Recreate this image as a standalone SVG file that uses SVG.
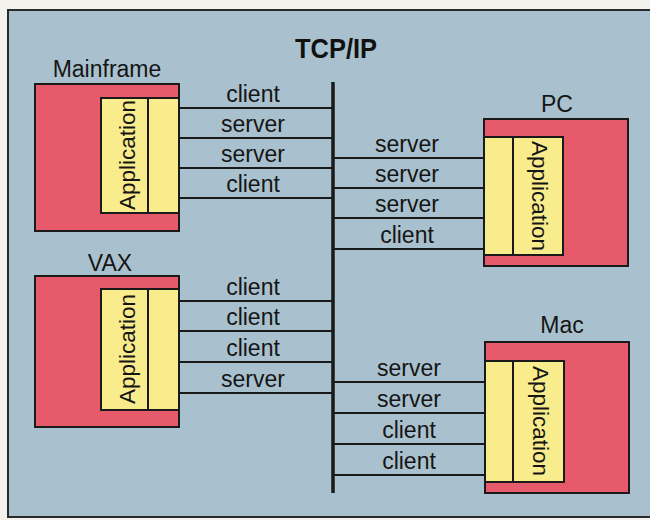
<svg xmlns="http://www.w3.org/2000/svg" width="650" height="520" viewBox="0 0 650 520">
<style>
.red{fill:#e65a6b;stroke:#1a1a1a;stroke-width:2}
.yel{fill:#f8ec8c;stroke:#1a1a1a;stroke-width:2}
.div{stroke:#1a1a1a;stroke-width:2}
.t{font-family:"Liberation Sans",Arial,sans-serif;font-size:23px;fill:#151515;text-anchor:middle}
.app{font-size:22.5px}
.title{font-family:"Liberation Sans",Arial,sans-serif;font-size:28px;font-weight:bold;fill:#111;text-anchor:middle}
.conn line{stroke:#1a1a1a;stroke-width:2}
</style>
<rect x="0" y="0" width="650" height="520" fill="#f4f2ec"/>
<rect x="8" y="10" width="660" height="507" fill="#a9c1ce" stroke="#2a2a2a" stroke-width="2"/>
<text class="title" x="336" y="58" textLength="82" lengthAdjust="spacingAndGlyphs">TCP/IP</text>
<g id="connectors" class="conn">
<line x1="333" y1="82" x2="333" y2="493" style="stroke-width:3.5"/>
<line x1="179" y1="108" x2="333" y2="108"/>
<line x1="179" y1="138" x2="333" y2="138"/>
<line x1="179" y1="168" x2="333" y2="168"/>
<line x1="179" y1="198" x2="333" y2="198"/>
<line x1="179" y1="301" x2="333" y2="301"/>
<line x1="179" y1="331" x2="333" y2="331"/>
<line x1="179" y1="362" x2="333" y2="362"/>
<line x1="179" y1="393" x2="333" y2="393"/>
<line x1="333" y1="158" x2="484" y2="158"/>
<line x1="333" y1="188" x2="484" y2="188"/>
<line x1="333" y1="218" x2="484" y2="218"/>
<line x1="333" y1="249" x2="484" y2="249"/>
<line x1="333" y1="382" x2="485" y2="382"/>
<line x1="333" y1="413" x2="485" y2="413"/>
<line x1="333" y1="444" x2="485" y2="444"/>
<line x1="333" y1="475" x2="485" y2="475"/>
<text class="t" x="253" y="102">client</text>
<text class="t" x="253" y="132">server</text>
<text class="t" x="253" y="162">server</text>
<text class="t" x="253" y="192">client</text>
<text class="t" x="253" y="295">client</text>
<text class="t" x="253" y="325">client</text>
<text class="t" x="253" y="356">client</text>
<text class="t" x="253" y="387">server</text>
<text class="t" x="407" y="152">server</text>
<text class="t" x="407" y="182">server</text>
<text class="t" x="407" y="212">server</text>
<text class="t" x="407" y="243">client</text>
<text class="t" x="409" y="376">server</text>
<text class="t" x="409" y="407">server</text>
<text class="t" x="409" y="438">client</text>
<text class="t" x="409" y="469">client</text>
</g>
<g id="mainframe">
<text class="t" x="107" y="77">Mainframe</text>
<rect class="red" x="35" y="84" width="144" height="147"/>
<rect class="yel" x="101" y="98" width="78" height="115"/>
<line class="div" x1="148" y1="98" x2="148" y2="213"/>
<text class="t app" transform="translate(135,155) rotate(-90)">Application</text>
</g>
<g id="vax">
<text class="t" x="110" y="271">VAX</text>
<rect class="red" x="35" y="276" width="144" height="151"/>
<rect class="yel" x="101" y="289" width="78" height="121"/>
<line class="div" x1="148" y1="289" x2="148" y2="410"/>
<text class="t app" transform="translate(135,349) rotate(-90)">Application</text>
</g>
<g id="pc">
<text class="t" x="557" y="112">PC</text>
<rect class="red" x="484" y="119" width="144" height="147"/>
<rect class="yel" x="484" y="137" width="79" height="118"/>
<line class="div" x1="513" y1="137" x2="513" y2="255"/>
<text class="t app" transform="translate(532,196) rotate(90)">Application</text>
</g>
<g id="mac">
<text class="t" x="562" y="333">Mac</text>
<rect class="red" x="485" y="342" width="144" height="151"/>
<rect class="yel" x="485" y="361" width="79" height="121"/>
<line class="div" x1="513" y1="361" x2="513" y2="482"/>
<text class="t app" transform="translate(533,421) rotate(90)">Application</text>
</g>
</svg>
